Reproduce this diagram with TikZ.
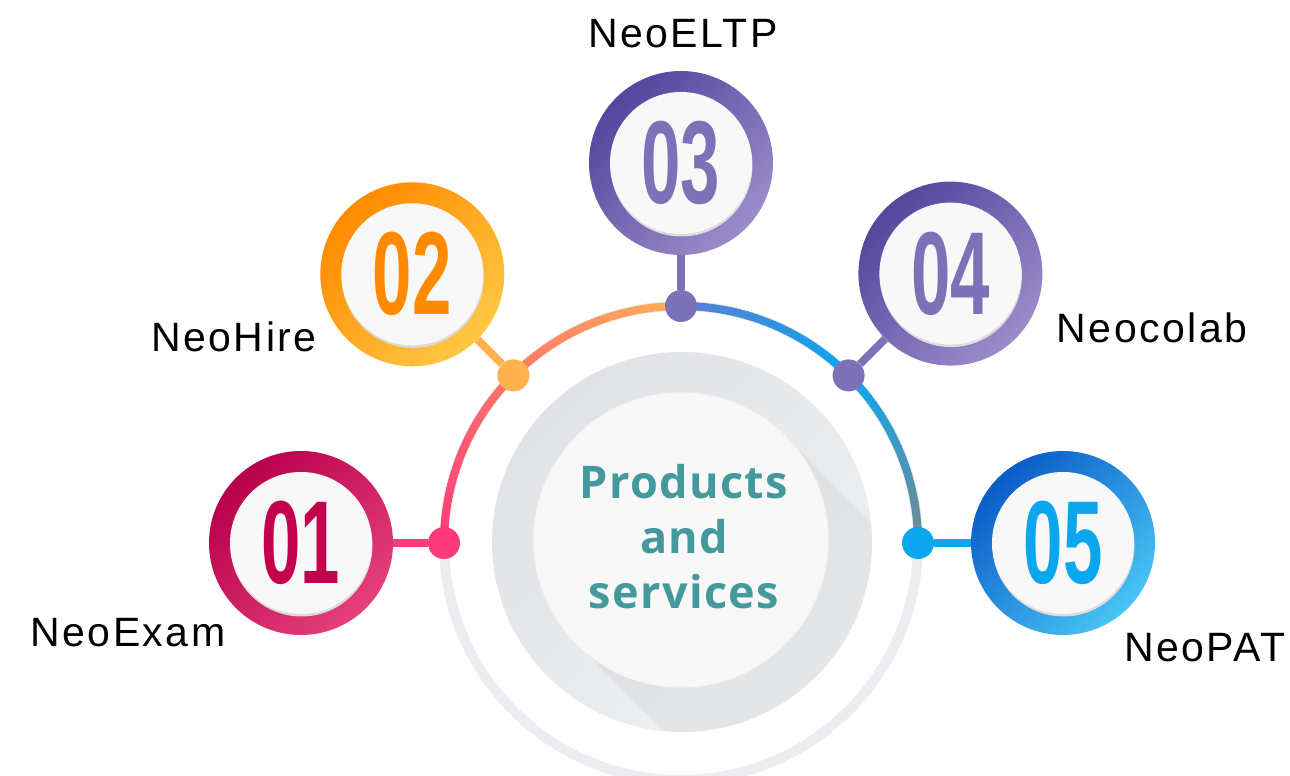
\documentclass[tikz,border=0pt]{standalone}
\usepackage{fontspec}
\setmainfont{Liberation Sans}
\newfontfamily\labelfont{Liberation Sans}[LetterSpace=6]
\newfontfamily\titlefont{Open Sans}[LetterSpace=3]
\newfontfamily\digitfont{Liberation Sans}
\usetikzlibrary{calc}

\definecolor{ringAdark}{HTML}{B8004A}
\definecolor{ringAlight}{HTML}{E5407C}
\definecolor{numA}{HTML}{C4004C}
\definecolor{dotA}{HTML}{FF3B7B}
\definecolor{ringBdark}{HTML}{FF8A00}
\definecolor{ringBlight}{HTML}{FFC844}
\definecolor{numB}{HTML}{FF8A00}
\definecolor{dotB}{HTML}{FFB14F}
\definecolor{ringCdark}{HTML}{52469E}
\definecolor{ringClight}{HTML}{9C8CCA}
\definecolor{numC}{HTML}{7B72B8}
\definecolor{dotC}{HTML}{7B72B8}
\definecolor{ringEdark}{HTML}{0A5CC8}
\definecolor{ringElight}{HTML}{48C4F5}
\definecolor{numE}{HTML}{0AA7EE}
\definecolor{dotE}{HTML}{0AA7EE}
\definecolor{arcPink}{HTML}{FF3B7B}
\definecolor{arcCoral}{HTML}{FF7866}
\definecolor{arcOrange}{HTML}{FFB255}
\definecolor{arcBlue}{HTML}{5A7FD2}
\definecolor{arcCyan}{HTML}{0AA8EE}
\definecolor{arcGray}{HTML}{7A8890}
\definecolor{trackGray}{HTML}{ECEDF0}
\definecolor{diskDark}{HTML}{E1E2E5}
\definecolor{diskLight}{HTML}{EFF0F2}
\definecolor{faceWhite}{HTML}{F8F8F8}
\definecolor{titleTeal}{HTML}{43999B}

\newcommand\numtxt[1]{\scalebox{0.6}[1]{\digitfont\bfseries\fontsize{118}{118}\selectfont #1}}

\tikzset{
  arcline/.style={line width=8pt},
  conn/.style={line width=8pt},
  dotnode/.style={circle, minimum size=32pt, inner sep=0pt},
  numring/.style 2 args={circle, minimum size=184pt, inner sep=0pt,
    top color=#1, bottom color=#2, shading angle=45},
  numface/.style={circle, minimum size=142pt, inner sep=0pt, fill=faceWhite,
    preaction={fill=black!14, transform canvas={shift={(0.5,-2.5)}}}},
  lab/.style={anchor=base, font=\labelfont\fontsize{41}{41}\selectfont},
}

\begin{document}
\begin{tikzpicture}[x=1pt, y=1pt]
  \useasboundingbox (0,0) rectangle (1290,776);
  \coordinate (C) at (681,233);
  \coordinate (W) at (681,236);

  % centre disk with its long shadow
  \node[circle, minimum size=380pt, inner sep=0pt, top color=diskDark,
        bottom color=diskLight, shading angle=45] (disk) at (682,234) {};
  \begin{scope}
    \clip (disk.center) circle[radius=190];
    \fill[black, opacity=0.04] ([shift={(45:147)}]W) -- ++(-45:300)
      -- ++(225:294) -- ++(135:300) -- cycle;
  \end{scope}
  \node[circle, minimum size=294pt, inner sep=0pt, fill=faceWhite,
        draw=black!4, line width=1.5pt] (core) at (W) {};
  \node[align=center, text=titleTeal, font=\titlefont\bfseries\fontsize{45}{55}\selectfont]
    (title) at (684,239) {Products\\and\\services};

  % grey track and coloured half
  \draw[trackGray, line width=10pt] (C) circle[radius=237];
  \foreach \s/\ca/\cb in {180/arcPink/arcCoral, 135/arcCoral/arcOrange,
                          90/arcBlue/arcCyan, 45/arcCyan/arcGray}
    \foreach \i in {0,...,44} {
      \pgfmathtruncatemacro\p{100*\i/45}
      \draw[arcline, \cb!\p!\ca] ([shift={(\s-\i:237)}]C)
        arc[start angle=\s-\i, end angle=\s-\i-1.4, radius=237];
    }

  % dots on the arc
  \node[dotnode, fill=dotA] (d1) at ([shift={(180:237)}]C) {};
  \node[dotnode, fill=dotB] (d2) at ([shift={(135:237)}]C) {};
  \node[dotnode, fill=dotC] (d3) at ([shift={(90:237)}]C) {};
  \node[dotnode, fill=dotC] (d4) at ([shift={(45:237)}]C) {};
  \node[dotnode, fill=dotE] (d5) at ([shift={(0:237)}]C) {};

  % numbered rings
  \node[numring={ringAdark}{ringAlight}] (c1) at ([shift={(180:380)}]C) {};
  \node[numring={ringBdark}{ringBlight}] (c2) at ([shift={(135:380)}]C) {};
  \node[numring={ringCdark}{ringClight}] (c3) at ([shift={(90:380)}]C) {};
  \node[numring={ringCdark}{ringClight}] (c4) at ([shift={(45:381)}]C) {};
  \node[numring={ringEdark}{ringElight}] (c5) at ([shift={(0:382)}]C) {};

  \node[numface, text=numA] (f1) at (c1) {\numtxt{01}};
  \node[numface, text=numB] (f2) at (c2) {\numtxt{02}};
  \node[numface, text=numC] (f3) at (c3) {\numtxt{03}};
  \node[numface, text=numC] (f4) at (c4) {\numtxt{04}};
  \node[numface, text=numE] (f5) at (c5) {\numtxt{05}};

  % connectors
  \draw[conn, dotA] (d1) -- (c1);
  \draw[conn, dotB] (d2) -- (c2);
  \draw[conn, dotC] (d3) -- (c3);
  \draw[conn, dotC] (d4) -- (c4);
  \draw[conn, dotE] (d5) -- (c5);

  % names
  \node[lab] (l1) at (128,129) {NeoExam};
  \node[lab] (l2) at (234,424) {NeoHire};
  \node[lab] (l3) at (683,728) {NeoELTP};
  \node[lab] (l4) at (1152,433) {Neocolab};
  \node[lab] (l5) at (1205,114) {NeoPAT};
\end{tikzpicture}
\end{document}
